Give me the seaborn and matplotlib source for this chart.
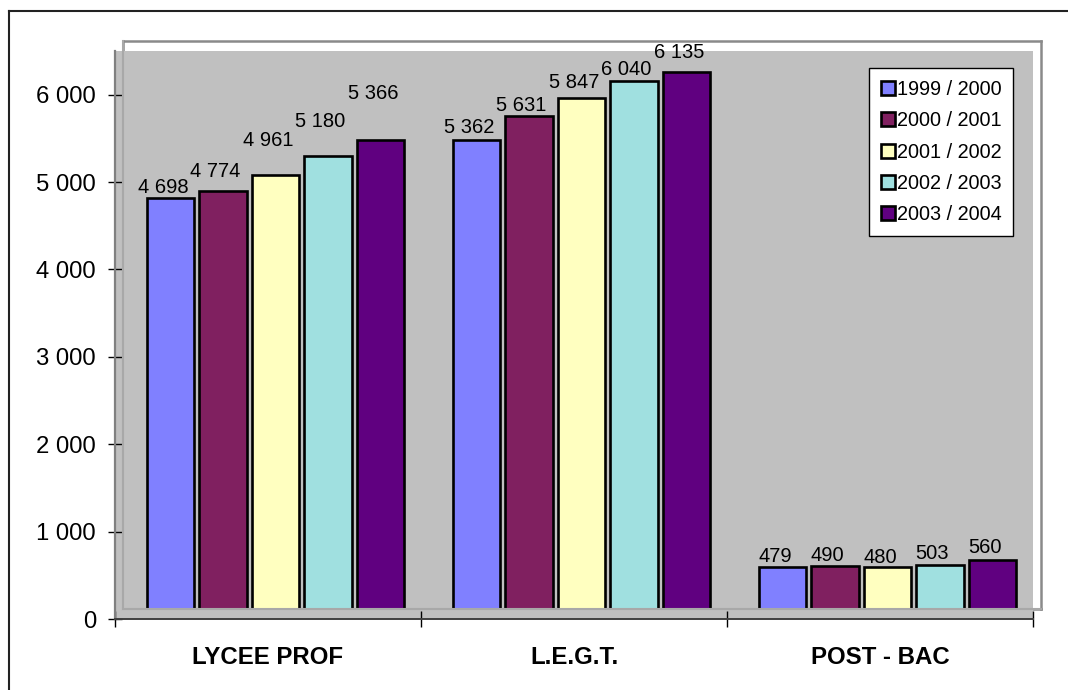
import matplotlib
matplotlib.use("Agg")
import matplotlib.pyplot as plt
from matplotlib.lines import Line2D
import seaborn as sns
import pandas as pd

# ---- data ----
categories = ["LYCEE PROF", "L.E.G.T.", "POST - BAC"]
years = ["1999 / 2000", "2000 / 2001", "2001 / 2002", "2002 / 2003", "2003 / 2004"]
v_1999 = [4698, 5362, 479]
v_2000 = [4774, 5631, 490]
v_2001 = [4961, 5847, 480]
v_2002 = [5180, 6040, 503]
v_2003 = [5366, 6135, 560]
y_ticks = [0, 1000, 2000, 3000, 4000, 5000, 6000]

# ---- style ----
colors = ["#8080FF", "#802060", "#FFFFC0", "#A0E0E0", "#600080"]
# vertical lift (px) of each value label above its bar, per year then category
label_lift_px = [[5, 7, 5], [14, 5, 5], [29, 10, 4], [29, 6, 6], [41, 14, 7]]

series = [v_1999, v_2000, v_2001, v_2002, v_2003]
rows = []
for yr, vals in zip(years, series):
    for c, v in zip(categories, vals):
        rows.append({"cat": c, "year": yr, "val": v})
df = pd.DataFrame(rows)

plt.rcParams["font.family"] = ["Liberation Sans", "DejaVu Sans"]

W, H = 1068, 690
fig = plt.figure(figsize=(W / 100, H / 100), dpi=100)


def rect(x0, y0, x1, y1):
    return [x0 / W, 1 - y1 / H, (x1 - x0) / W, (y1 - y0) / H]


front = rect(115, 51, 1033, 619)
back = rect(122.5, 40.5, 1040.5, 608.5)
YMAX = 6500

# back wall outline
ax_back = fig.add_axes(back)
ax_back.set_facecolor("white")
for s in ax_back.spines.values():
    s.set_color("#8a8a8a")
    s.set_linewidth(1.8)
ax_back.set_xticks([])
ax_back.set_yticks([])

# front plane (axes with ticks)
ax = fig.add_axes(front)
ax.set_facecolor("#C0C0C0")
ax.spines["top"].set_visible(False)
ax.spines["right"].set_visible(False)
ax.spines["left"].set_color("#808080")
ax.spines["left"].set_linewidth(1.6)
ax.spines["bottom"].set_color("#404040")
ax.spines["bottom"].set_linewidth(1.4)
ax.set_ylim(0, YMAX)
ax.set_xlim(0, 3)
ax.set_yticks(y_ticks)
ax.set_yticklabels([f"{t:,}".replace(",", " ") for t in y_ticks])
ax.tick_params(axis="y", direction="inout", length=10, width=1, colors="black",
               labelsize=17.2, pad=8.6)
ax.set_xticks([0, 1, 2, 3])
ax.set_xticklabels([])
ax.tick_params(axis="x", which="major", direction="inout", length=11.5, width=1,
               colors="black")
ax.set_xticks([0.5, 1.5, 2.5], minor=True)
ax.set_xticklabels(categories, minor=True, fontweight="bold", fontsize=17.3)
ax.tick_params(axis="x", which="minor", length=0, pad=19.5)

# bars on the back wall
axb = fig.add_axes(back)
axb.set_facecolor("none")
sns.barplot(data=df, x="cat", y="val", hue="year", palette=colors, saturation=1,
            width=0.857, gap=0.1, edgecolor="black", linewidth=1.9, ax=axb,
            errorbar=None)
axb.set_ylim(0, YMAX)
axb.set_xlim(-0.5, 2.5)
axb.set_xticks([])
axb.set_yticks([])
axb.set_xlabel("")
axb.set_ylabel("")
axb.spines["top"].set_visible(False)
axb.spines["right"].set_visible(False)
axb.spines["left"].set_color("#a8a8a8")
axb.spines["bottom"].set_color("#a8a8a8")
axb.spines["left"].set_linewidth(1.5)
axb.spines["bottom"].set_linewidth(1.5)

for i, cont in enumerate(axb.containers):
    for j, bar in enumerate(cont):
        h = bar.get_height()
        cx = bar.get_x() + bar.get_width() / 2
        axb.annotate(f"{int(round(h)):,}".replace(",", " "), xy=(cx, h),
                     xytext=(-7.5 * 0.72, label_lift_px[i][j] * 0.72),
                     textcoords="offset points", ha="center", va="baseline",
                     fontsize=14.5, color="black")

handles, labels = axb.get_legend_handles_labels()
if axb.get_legend() is not None:
    axb.get_legend().remove()
leg = fig.legend(handles, labels, loc="upper left",
                 bbox_to_anchor=(869 / W, 1 - 68 / H), bbox_transform=fig.transFigure,
                 frameon=True, fancybox=False, framealpha=1, edgecolor="black",
                 fontsize=14.3, handlelength=0.7, handleheight=0.7,
                 handletextpad=0.1, labelspacing=0.62, borderpad=0.6,
                 borderaxespad=0)
leg.get_frame().set_linewidth(1.0)

# outer chart border (top and left visible)
fig.add_artist(Line2D([9 / W, 9 / W], [0, 1 - 11 / H], transform=fig.transFigure,
                      color="#222222", lw=1.5))
fig.add_artist(Line2D([9 / W, 1], [1 - 11 / H, 1 - 11 / H], transform=fig.transFigure,
                      color="#222222", lw=1.5))

fig.savefig("out.png", dpi=100)
